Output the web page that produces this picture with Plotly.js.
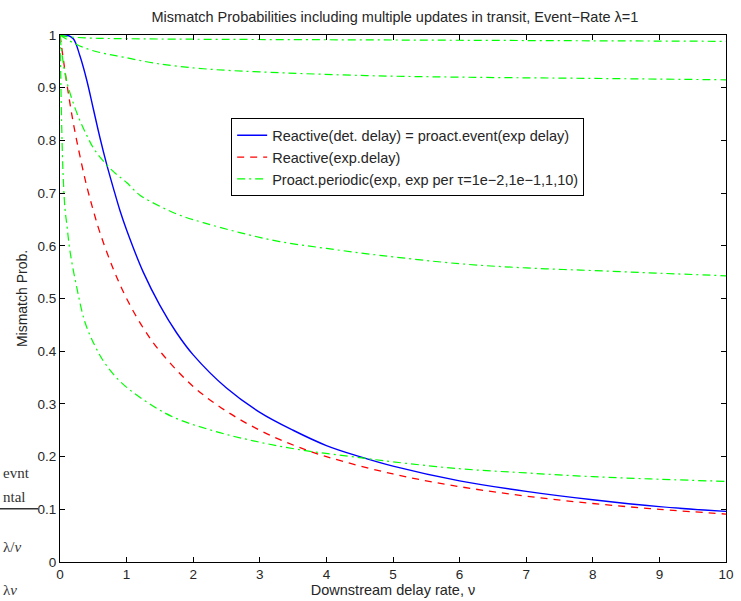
<!DOCTYPE html>
<html>
<head>
<meta charset="utf-8">
<script src="https://cdn.plot.ly/plotly-3.0.1.min.js"></script>
<style>html,body{margin:0;padding:0;background:#fff;}#chart{width:741px;height:601px;}</style>
</head>
<body>
<div id="chart"></div>
<script>
// Reactive (deterministic delay) = proactive event (exp delay)
const blueX = [0, 0.1, 0.2, 0.3, 0.4, 0.5, 0.6, 0.7, 0.8, 0.9, 1, 1.25, 1.5, 1.75, 2, 2.5, 3, 3.5, 4, 4.5, 5, 6, 7, 8, 9, 10];
const blueY = [1, 1.0, 0.993, 0.96, 0.915, 0.86, 0.805, 0.755, 0.71, 0.667, 0.63, 0.55, 0.487, 0.435, 0.393, 0.33, 0.284, 0.25, 0.221, 0.2, 0.182, 0.154, 0.134, 0.118, 0.105, 0.096];
// Reactive (exp. delay)
const redX = [0, 0.1, 0.2, 0.3, 0.4, 0.5, 0.6, 0.8, 1, 1.25, 1.5, 2, 2.5, 3, 3.5, 4, 5, 6, 7, 8, 9, 10];
const redY = [1, 0.91, 0.833, 0.77, 0.714, 0.667, 0.625, 0.556, 0.5, 0.444, 0.4, 0.333, 0.286, 0.25, 0.222, 0.2, 0.167, 0.143, 0.125, 0.111, 0.1, 0.091];
// Proactive periodic, tau = 1e-2
const g1X = [0, 0.1, 0.5, 1, 2, 4, 6, 8, 10];
const g1Y = [1, 0.997, 0.994, 0.993, 0.992, 0.991, 0.99, 0.989, 0.988];
// tau = 1e-1
const g2X = [0, 0.1, 0.25, 0.45, 0.7, 0.95, 1.45, 2.15, 3, 4.6, 6, 7.7, 10];
const g2Y = [1, 0.992, 0.982, 0.972, 0.964, 0.958, 0.946, 0.936, 0.93, 0.923, 0.92, 0.918, 0.915];
// tau = 1
const g3X = [0, 0.075, 0.15, 0.275, 0.4, 0.525, 0.775, 1.0, 1.2, 1.5, 1.8, 2.15, 2.7, 3.3, 4, 4.8, 6, 7, 8, 9, 10];
const g3Y = [0.996, 0.927, 0.89, 0.845, 0.81, 0.781, 0.744, 0.72, 0.696, 0.675, 0.658, 0.644, 0.625, 0.608, 0.595, 0.582, 0.566, 0.558, 0.553, 0.548, 0.543];
// tau = 10
const g4X = [0, 0.01, 0.025, 0.045, 0.075, 0.1, 0.15, 0.25, 0.375, 0.525, 0.675, 0.925, 1.275, 1.7, 2.3, 2.9, 3.6, 4.5, 5, 6, 7, 8, 9, 10];
const g4Y = [1, 0.93, 0.83, 0.74, 0.67, 0.643, 0.59, 0.522, 0.455, 0.41, 0.377, 0.34, 0.306, 0.275, 0.249, 0.23, 0.213, 0.198, 0.19, 0.177, 0.169, 0.162, 0.157, 0.153];

const seriesNames = ["Reactive(det. delay) = proact.event(exp delay)", "Reactive(exp.delay)", "Proact.periodic(exp, exp per τ=1e−2,1e−1,1,10)"];
const xTicks = [0,1,2,3,4,5,6,7,8,9,10];
const yTicks = [0,0.1,0.2,0.3,0.4,0.5,0.6,0.7,0.8,0.9,1];

const FONT = 'Liberation Sans, Arial, sans-serif';
const TXT = '#262626';
const greenLine = {color: '#00ff00', width: 1.2, dash: '8px,4px,2px,4px', shape: 'spline'};
const traces = [
  {x: blueX, y: blueY, mode: 'lines', name: seriesNames[0], line: {color: '#0000ff', width: 1.4, shape: 'spline'}},
  {x: redX, y: redY, mode: 'lines', name: seriesNames[1], line: {color: '#ff0000', width: 1.3, dash: '7px,6px', shape: 'spline'}},
  {x: g1X, y: g1Y, mode: 'lines', name: seriesNames[2], line: greenLine},
  {x: g2X, y: g2Y, mode: 'lines', showlegend: false, line: greenLine},
  {x: g3X, y: g3Y, mode: 'lines', showlegend: false, line: greenLine},
  {x: g4X, y: g4Y, mode: 'lines', showlegend: false, line: greenLine}
];

const axisCommon = {
  showline: true, linecolor: '#000', linewidth: 1, mirror: 'ticks',
  ticks: 'inside', ticklen: 5, tickwidth: 1, tickcolor: '#000',
  showgrid: false, zeroline: false,
  tickfont: {family: FONT, size: 13.5, color: TXT}
};

const layout = {
  width: 741, height: 601,
  margin: {l: 60, r: 15, t: 35, b: 39},
  paper_bgcolor: '#fff', plot_bgcolor: '#fff',
  font: {family: FONT, size: 14, color: TXT},
  title: {text: 'Mismatch Probabilities including multiple updates in transit, Event−Rate λ=1',
          font: {size: 14.5, color: TXT}, x: 0.533, xanchor: 'center', y: 0.972, yanchor: 'middle'},
  xaxis: Object.assign({}, axisCommon, {range: [0, 10], tickvals: xTicks, ticktext: xTicks.map(String),
          title: {text: 'Downstream delay rate, ν', standoff: 1, font: {size: 14.5, color: TXT}}}),
  yaxis: Object.assign({}, axisCommon, {range: [0, 1], tickvals: yTicks, ticktext: yTicks.map(String),
          title: {text: 'Mismatch Prob.', standoff: 6, font: {size: 14, color: TXT}}}),
  showlegend: true,
  legend: {x: 0.257, y: 0.842, xanchor: 'left', yanchor: 'top', bgcolor: '#fff',
           bordercolor: '#000', borderwidth: 1, itemwidth: 30,
           font: {family: FONT, size: 14.5, color: TXT},
           tracegroupgap: 0},
  annotations: [
    {xref: 'paper', yref: 'paper', x: -59 / 666, y: (562.3 - 473) / 527.6, xanchor: 'left', yanchor: 'middle',
     text: 'evnt', showarrow: false, font: {family: 'Liberation Serif, serif', size: 15, color: '#333'}},
    {xref: 'paper', yref: 'paper', x: -59 / 666, y: (562.3 - 497) / 527.6, xanchor: 'left', yanchor: 'middle',
     text: 'ntal', showarrow: false, font: {family: 'Liberation Serif, serif', size: 15, color: '#333'}},
    {xref: 'paper', yref: 'paper', x: -59 / 666, y: (562.3 - 547) / 527.6, xanchor: 'left', yanchor: 'middle',
     text: 'λ/<i>ν</i>', showarrow: false, font: {family: 'Liberation Serif, serif', size: 15, color: '#333'}},
    {xref: 'paper', yref: 'paper', x: -59 / 666, y: (562.3 - 590) / 527.6, xanchor: 'left', yanchor: 'middle',
     text: 'λ<i>ν</i>', showarrow: false, font: {family: 'Liberation Serif, serif', size: 15, color: '#333'}}
  ],
  shapes: [
    {type: 'line', xref: 'paper', yref: 'paper', x0: -60 / 666, x1: (38 - 60) / 666,
     y0: (562.3 - 509) / 527.6, y1: (562.3 - 509) / 527.6, line: {color: '#333', width: 1.5}}
  ]
};

Plotly.newPlot('chart', traces, layout, {displayModeBar: false, staticPlot: true});
</script>
</body>
</html>
